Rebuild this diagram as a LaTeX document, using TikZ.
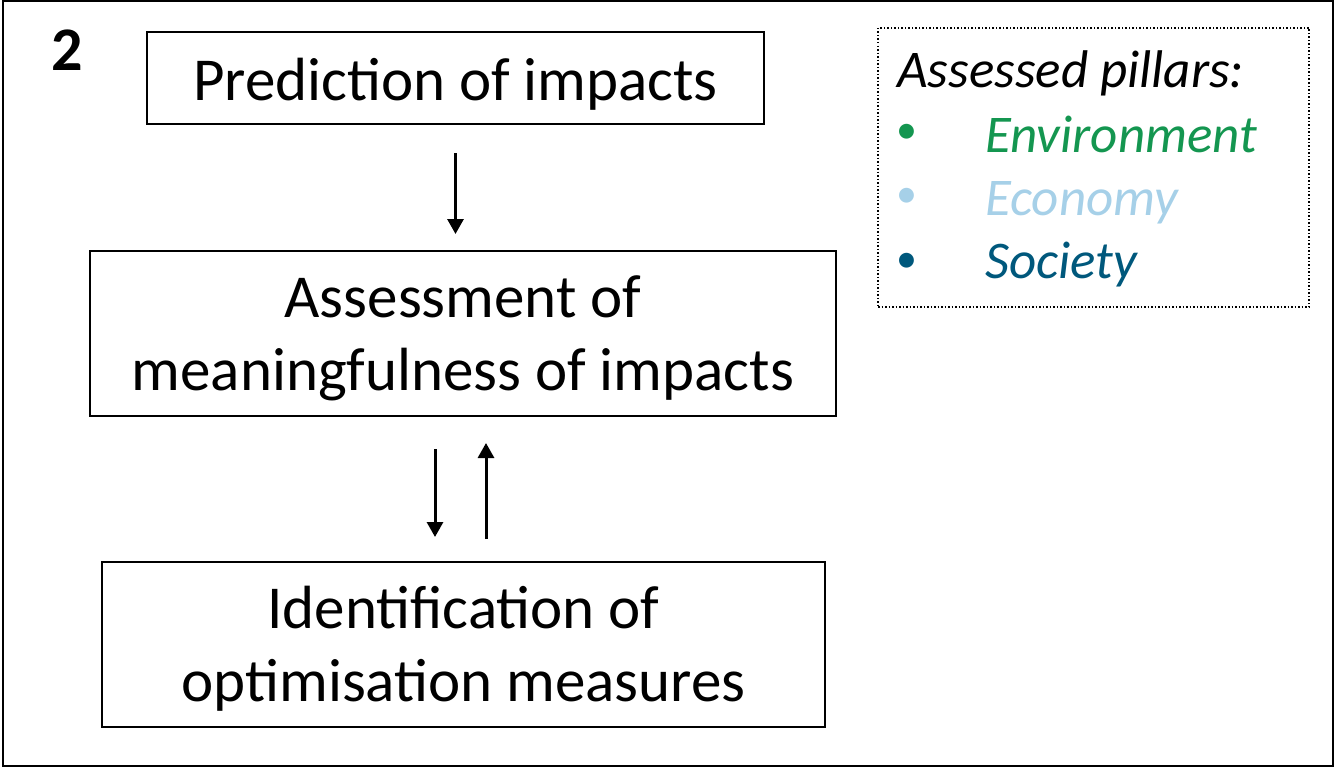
\documentclass[tikz,border=0pt]{standalone}
\usepackage{fontspec}
\setmainfont{Carlito}
\usetikzlibrary{arrows.meta,calc}

\definecolor{envgreen}{RGB}{20,150,80}
\definecolor{ecoblue}{RGB}{166,208,232}
\definecolor{socblue}{RGB}{0,88,124}

% move a line of text down without changing its box
\newcommand{\lowertext}[2]{\raisebox{-#1}[\height][\depth]{#2}}

\tikzset{
  stepbox/.style={draw=black, line width=2pt, align=center, inner sep=0pt,
    font=\fontsize{61}{73}\selectfont},
  flow/.style={line width=3pt, -{Triangle[width=16pt,length=15pt]}},
  legtext/.style={anchor=base west, inner sep=0pt, font=\fontsize{53}{63}\selectfont\itshape},
  legdot/.style={inner sep=0pt, font=\fontsize{42}{50}\selectfont},
}

\begin{document}
\begin{tikzpicture}[x=1pt,y=-1pt]
  \useasboundingbox (0,0) rectangle (1335,768);
  % outer frame
  \draw[line width=2.5pt] (3,1) rectangle (1333,766);

  \node[anchor=base, inner sep=0pt, font=\fontsize{62}{70}\selectfont\bfseries] (num) at (67.5,70.5) {2};

  % process boxes
  \node[stepbox, minimum width=617pt, minimum height=92pt] (pred) at (455.5,78)
    {\lowertext{6pt}{Prediction of impacts}};
  \node[stepbox, minimum width=746pt, minimum height=165pt] (assess) at (463,333.5)
    {\lowertext{5pt}{Assessment of}\\\lowertext{5pt}{meaningfulness of impacts}};
  \node[stepbox, minimum width=723pt, minimum height=165pt] (ident) at (463.5,644.5)
    {\lowertext{4pt}{Identification of}\\\lowertext{4pt}{optimisation measures}};

  \draw[flow, shorten <=28pt, shorten >=16pt] (pred.south) -- (pred.south |- assess.north);
  \draw[flow, shorten <=32pt, shorten >=24pt] ([xshift=-28pt]assess.south) -- ([xshift=-28pt]assess.south |- ident.north);
  \draw[flow, shorten <=22pt, shorten >=26pt] ([xshift=23pt]assess.south |- ident.north) -- ([xshift=23pt]assess.south);

  % legend
  \node[draw, dotted, line width=1.5pt, minimum width=431pt, minimum height=279pt, inner sep=0pt] (legend) at (1093.5,167.5) {};
  \node[legtext] (legtitle) at (897,88) {Assessed pillars:};
  \node[legdot, text=envgreen] (dotenv) at (906.5,134) {•};
  \node[legtext, text=envgreen] (env) at (985,152) {Environment};
  \node[legdot, text=ecoblue] (doteco) at (906.5,198) {•};
  \node[legtext, text=ecoblue] (eco) at (985,215) {Economy};
  \node[legdot, text=socblue] (dotsoc) at (906.5,263) {•};
  \node[legtext, text=socblue] (soc) at (985,278) {Society};
\end{tikzpicture}
\end{document}
